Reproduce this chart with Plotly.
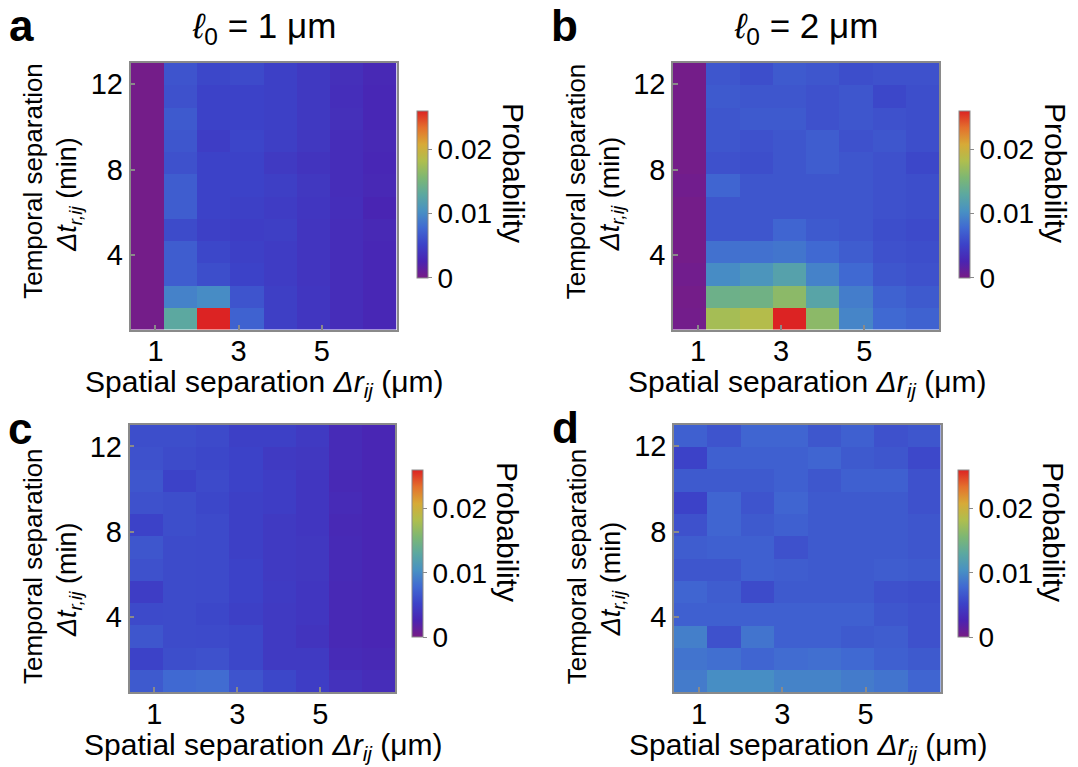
import plotly.graph_objects as go

# ---------------- data ----------------
x_centers = [0.8, 1.6, 2.4, 3.2, 4.0, 4.8, 5.6, 6.4]          # spatial separation bins (um)
y_centers = [1.02, 2.06, 3.10, 4.15, 5.19, 6.23, 7.27, 8.31, 9.35, 10.40, 11.44, 12.48]  # temporal bins (min)
x_ticks = [1, 3, 5]
y_ticks = [4, 8, 12]
cb_ticks = [0, 0.01, 0.02]
cb_ticktext = ["0", "0.01", "0.02"]
z_max = 0.026

# rows from bottom (smallest time) to top, columns left to right
z_a = [
    [0.0002, 0.0130, 0.0260, 0.0073, 0.0049, 0.0042, 0.0034, 0.0029],
    [0.0002, 0.0094, 0.0101, 0.0064, 0.0049, 0.0042, 0.0034, 0.0029],
    [0.0002, 0.0070, 0.0060, 0.0052, 0.0047, 0.0041, 0.0034, 0.0029],
    [0.0002, 0.0070, 0.0055, 0.0050, 0.0047, 0.0041, 0.0034, 0.0029],
    [0.0002, 0.0058, 0.0050, 0.0048, 0.0049, 0.0041, 0.0034, 0.0030],
    [0.0002, 0.0070, 0.0052, 0.0050, 0.0047, 0.0042, 0.0035, 0.0027],
    [0.0002, 0.0070, 0.0052, 0.0052, 0.0049, 0.0043, 0.0034, 0.0030],
    [0.0002, 0.0062, 0.0052, 0.0052, 0.0045, 0.0040, 0.0034, 0.0029],
    [0.0002, 0.0065, 0.0048, 0.0054, 0.0049, 0.0043, 0.0034, 0.0030],
    [0.0002, 0.0068, 0.0052, 0.0052, 0.0050, 0.0044, 0.0036, 0.0029],
    [0.0002, 0.0062, 0.0052, 0.0052, 0.0050, 0.0044, 0.0035, 0.0029],
    [0.0002, 0.0064, 0.0055, 0.0057, 0.0050, 0.0044, 0.0036, 0.0030],
]
z_b = [
    [0.0003, 0.0177, 0.0185, 0.0260, 0.0164, 0.0096, 0.0078, 0.0073],
    [0.0002, 0.0143, 0.0146, 0.0164, 0.0125, 0.0091, 0.0073, 0.0068],
    [0.0004, 0.0101, 0.0109, 0.0122, 0.0094, 0.0078, 0.0065, 0.0062],
    [0.0002, 0.0083, 0.0083, 0.0086, 0.0078, 0.0070, 0.0062, 0.0060],
    [0.0002, 0.0065, 0.0065, 0.0075, 0.0068, 0.0065, 0.0060, 0.0057],
    [0.0002, 0.0065, 0.0065, 0.0065, 0.0065, 0.0065, 0.0062, 0.0060],
    [0.0004, 0.0075, 0.0065, 0.0065, 0.0065, 0.0065, 0.0062, 0.0060],
    [0.0002, 0.0062, 0.0060, 0.0065, 0.0070, 0.0065, 0.0062, 0.0055],
    [0.0002, 0.0065, 0.0062, 0.0065, 0.0070, 0.0062, 0.0065, 0.0060],
    [0.0002, 0.0065, 0.0068, 0.0068, 0.0062, 0.0065, 0.0062, 0.0060],
    [0.0002, 0.0068, 0.0065, 0.0065, 0.0062, 0.0065, 0.0055, 0.0060],
    [0.0002, 0.0065, 0.0060, 0.0068, 0.0065, 0.0060, 0.0062, 0.0062],
]
z_c = [
    [0.0068, 0.0078, 0.0080, 0.0064, 0.0055, 0.0048, 0.0038, 0.0034],
    [0.0052, 0.0060, 0.0062, 0.0055, 0.0045, 0.0045, 0.0032, 0.0030],
    [0.0065, 0.0058, 0.0057, 0.0055, 0.0045, 0.0040, 0.0030, 0.0028],
    [0.0057, 0.0058, 0.0055, 0.0050, 0.0045, 0.0042, 0.0030, 0.0028],
    [0.0048, 0.0058, 0.0057, 0.0052, 0.0046, 0.0042, 0.0030, 0.0028],
    [0.0062, 0.0058, 0.0057, 0.0052, 0.0045, 0.0043, 0.0031, 0.0028],
    [0.0065, 0.0058, 0.0057, 0.0050, 0.0045, 0.0043, 0.0031, 0.0028],
    [0.0052, 0.0060, 0.0057, 0.0050, 0.0045, 0.0042, 0.0030, 0.0028],
    [0.0062, 0.0060, 0.0055, 0.0050, 0.0048, 0.0042, 0.0032, 0.0028],
    [0.0065, 0.0052, 0.0057, 0.0052, 0.0048, 0.0042, 0.0030, 0.0028],
    [0.0062, 0.0058, 0.0055, 0.0052, 0.0045, 0.0043, 0.0032, 0.0028],
    [0.0060, 0.0060, 0.0057, 0.0050, 0.0050, 0.0045, 0.0032, 0.0028],
]
z_d = [
    [0.0090, 0.0102, 0.0102, 0.0095, 0.0095, 0.0090, 0.0085, 0.0075],
    [0.0085, 0.0082, 0.0075, 0.0080, 0.0082, 0.0078, 0.0072, 0.0068],
    [0.0092, 0.0062, 0.0085, 0.0072, 0.0072, 0.0068, 0.0070, 0.0062],
    [0.0072, 0.0072, 0.0072, 0.0072, 0.0072, 0.0072, 0.0065, 0.0062],
    [0.0075, 0.0070, 0.0058, 0.0068, 0.0068, 0.0068, 0.0062, 0.0060],
    [0.0065, 0.0065, 0.0072, 0.0070, 0.0068, 0.0068, 0.0070, 0.0068],
    [0.0070, 0.0072, 0.0072, 0.0062, 0.0068, 0.0068, 0.0068, 0.0065],
    [0.0062, 0.0075, 0.0068, 0.0072, 0.0068, 0.0068, 0.0068, 0.0065],
    [0.0052, 0.0075, 0.0064, 0.0075, 0.0068, 0.0068, 0.0068, 0.0062],
    [0.0068, 0.0068, 0.0068, 0.0072, 0.0066, 0.0072, 0.0072, 0.0062],
    [0.0052, 0.0072, 0.0072, 0.0072, 0.0075, 0.0068, 0.0065, 0.0056],
    [0.0072, 0.0064, 0.0075, 0.0075, 0.0066, 0.0072, 0.0062, 0.0065],
]
panel_letters = ["a", "b", "c", "d"]
panel_titles = ["<i>ℓ</i><sub>0</sub> = 1 μm", "<i>ℓ</i><sub>0</sub> = 2 μm"]
x_title = "Spatial separation <i>Δr</i><sub><i>ij</i></sub> (μm)"
y_title_1 = "Temporal separation"
y_title_2 = "<i>Δt</i><sub><i>r,ij</i></sub> (min)"
cb_title = "Probability"

# ---------------- style ----------------
W, H = 1078, 767
FONT = "Liberation Sans, Arial, sans-serif"
FRAME = "#8a8a8a"
colorscale = [
    [0.0, "rgb(120,28,134)"],
    [0.1, "rgb(74,36,178)"],
    [0.2, "rgb(60,66,200)"],
    [0.3, "rgb(64,105,210)"],
    [0.4, "rgb(72,145,195)"],
    [0.5, "rgb(92,168,160)"],
    [0.6, "rgb(125,183,115)"],
    [0.7, "rgb(175,190,78)"],
    [0.8, "rgb(215,170,55)"],
    [0.9, "rgb(228,112,45)"],
    [1.0, "rgb(220,35,35)"],
]

def px(v):
    return v / W

def py(v):
    return 1 - v / H

# panel geometry in screen pixels:
# (left, right, top, bottom, colorbar left, colorbar top, colorbar bottom, letter y, y-title shift)
panels = [
    (130.5, 396.5, 63, 329.5, 417, 111, 277.5, 25, -15),
    (673, 939, 63, 329.5, 959, 111, 277.5, 25, -15),
    (129.5, 395, 425, 692, 412, 470, 637, 429, 8),
    (674, 940.5, 424.5, 692, 958, 470, 637, 427, 8),
]
zs = [z_a, z_b, z_c, z_d]

fig = go.Figure()
annotations = []
for i, (l, r, t, b, cbx, cbt, cbb, ly, ys) in enumerate(panels):
    xa = "xaxis" if i == 0 else f"xaxis{i+1}"
    ya = "yaxis" if i == 0 else f"yaxis{i+1}"
    xr = "x" if i == 0 else f"x{i+1}"
    yr = "y" if i == 0 else f"y{i+1}"
    fig.add_trace(go.Heatmap(
        x=x_centers, y=y_centers, z=zs[i],
        xaxis=xr, yaxis=yr,
        colorscale=colorscale, zmin=0, zmax=z_max,
        hoverinfo="skip",
        colorbar=dict(
            x=px(cbx), xanchor="left", xpad=0,
            y=py((cbt + cbb) / 2), yanchor="middle", ypad=0,
            len=cbb - cbt, lenmode="pixels", thickness=11,
            outlinewidth=1, outlinecolor=FRAME,
            tickvals=cb_ticks, ticktext=cb_ticktext,
            ticks="outside", ticklen=4, tickcolor=FRAME, tickwidth=1,
            tickfont=dict(family=FONT, size=28, color="black"),
        ),
    ))
    fig.layout[xa] = dict(
        domain=[px(l), px(r)], anchor=yr, range=[0.4, 6.8],
        tickvals=x_ticks, ticks="inside", ticklen=5, tickcolor=FRAME, tickwidth=1.5,
        showline=True, linecolor=FRAME, linewidth=1.5, mirror=True,
        showgrid=False, zeroline=False, automargin=False,
        ticklabelstandoff=-5,
        tickfont=dict(family=FONT, size=29, color="black"),
    )
    fig.layout[ya] = dict(
        domain=[py(b), py(t)], anchor=xr, range=[0.5, 13.0],
        tickvals=y_ticks, ticks="inside", ticklen=5, tickcolor=FRAME, tickwidth=1.5,
        showline=True, linecolor=FRAME, linewidth=1.5, mirror=True,
        showgrid=False, zeroline=False, automargin=False,
        tickfont=dict(family=FONT, size=29, color="black"),
    )
    cx = (l + r) / 2
    # x axis title
    annotations.append(dict(text=x_title, x=px(cx + 1), y=py(b + 54), xref="paper", yref="paper",
                            showarrow=False, xanchor="center", yanchor="middle",
                            font=dict(family=FONT, size=30, color="black")))
    # y axis titles (two lines)
    annotations.append(dict(text=y_title_1, x=px(l - 97), y=py((t + b) / 2 + ys), xref="paper", yref="paper",
                            showarrow=False, textangle=-90, xanchor="center", yanchor="middle",
                            font=dict(family=FONT, size=26, color="black")))
    annotations.append(dict(text=y_title_2, x=px(l - 61), y=py((t + b) / 2 + ys + 13), xref="paper", yref="paper",
                            showarrow=False, textangle=-90, xanchor="center", yanchor="middle",
                            font=dict(family=FONT, size=27, color="black")))
    # colorbar title
    annotations.append(dict(text=cb_title, x=px(cbx + 96), y=py(cbt + 62), xref="paper", yref="paper",
                            showarrow=False, textangle=90, xanchor="center", yanchor="middle",
                            font=dict(family=FONT, size=30, color="black")))
    # panel letter
    annotations.append(dict(text=f"<b>{panel_letters[i]}</b>", x=px(l - 123), y=py(ly),
                            xref="paper", yref="paper", showarrow=False,
                            xanchor="left", yanchor="middle", borderpad=0,
                            font=dict(family=FONT, size=44, color="black")))
    if i < 2:
        annotations.append(dict(text=panel_titles[i], x=px(cx), y=py(28), xref="paper", yref="paper",
                                showarrow=False, xanchor="center", yanchor="middle",
                                font=dict(family=FONT, size=35, color="black")))

fig.update_layout(
    width=W, height=H, margin=dict(l=0, r=0, t=0, b=0, autoexpand=False),
    paper_bgcolor="white", plot_bgcolor="white",
    annotations=annotations, showlegend=False,
)
# remove the default 8px page margin so the figure fills the window exactly
fig.write_html("out.html", config={"displayModeBar": False},
               post_script="document.body.style.margin='0px';")
